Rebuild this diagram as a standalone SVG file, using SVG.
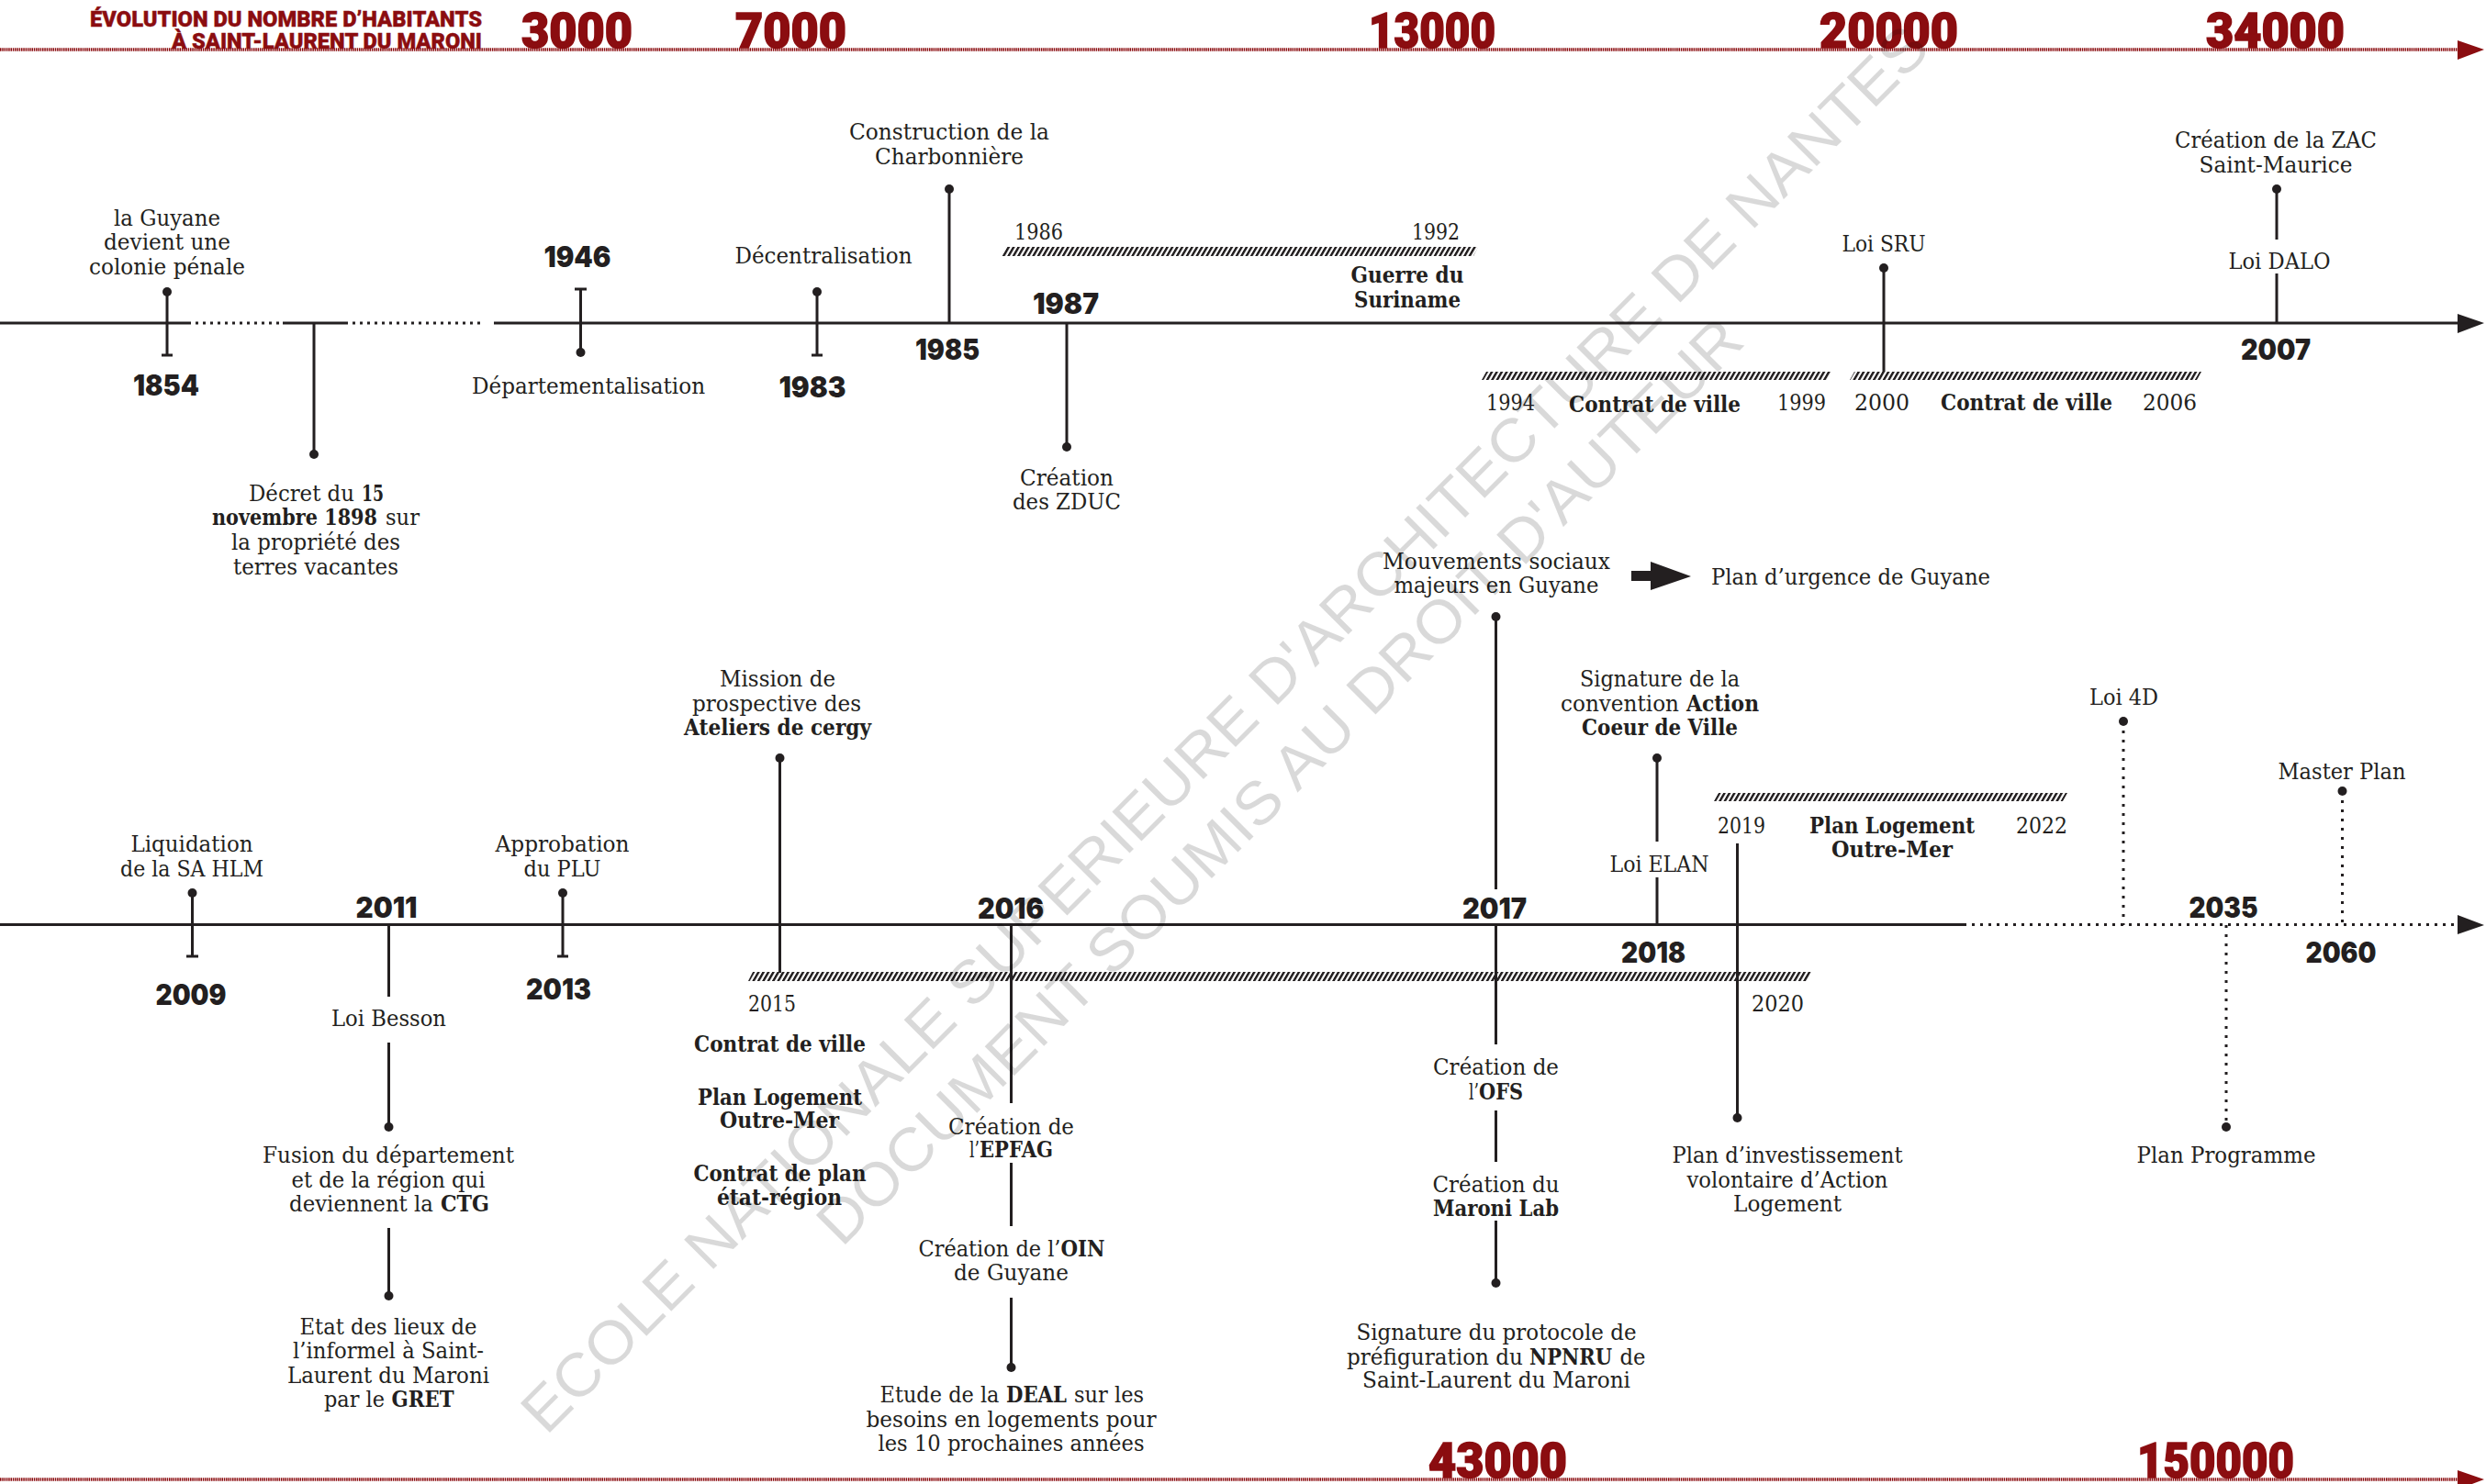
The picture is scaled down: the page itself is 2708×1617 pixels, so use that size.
<svg xmlns="http://www.w3.org/2000/svg" width="2708" height="1617" viewBox="0 0 2708 1617">
<style>
text{fill:#231f20;font-family:"DejaVu Serif","Liberation Serif",serif;font-size:25px}
.m{text-anchor:middle}
.b{font-weight:700}
.y{font-family:Inter,"Open Sans",sans-serif;font-weight:900;font-size:31px;text-anchor:middle}
.r{font-family:Roboto,"Open Sans",sans-serif;font-weight:900;font-size:53px;fill:#8b0d10;stroke:#8b0d10;stroke-width:1.6}
.ti{font-family:Roboto,"Open Sans",sans-serif;font-weight:900;font-size:23px;fill:#8b0d10;stroke:#8b0d10;stroke-width:.4}
.l{stroke:#231f20;stroke-width:3;fill:none}
.d{stroke:#231f20;stroke-width:3;fill:none;stroke-dasharray:3 7}
.a{fill:#231f20}
.ra{fill:#8b0d10}
.rl{stroke:#8b0d10;stroke-width:3.4;stroke-dasharray:1.5 .8;fill:none}
.w{font-family:"Liberation Sans",Arial,sans-serif;font-size:66px;fill:#000;fill-opacity:.15}
</style>
<defs>
<pattern id="h" width="5.4" height="10" patternUnits="userSpaceOnUse" patternTransform="skewX(-30)"><rect width="2.9" height="10" fill="#231f20"/></pattern>
<circle id="p" r="5" fill="#231f20"/>
</defs>
<rect width="2708" height="1617" fill="#fff"/>
<g id="connectors">
<path class="rl" d="M0 54H2680M0 1612H2680"/>
<path class="ra" d="M2677 44L2706 54L2677 65ZM2677 1602L2706 1612L2677 1623Z"/>
<path class="l" d="M0 352H205M308 352H376M538 352H2680M0 1007.500H2139"/>
<path class="d" style="stroke-dasharray:3 5" d="M205 352H308M376 352H528"/>
<path class="d" style="stroke-dasharray:3 6" d="M2139 1007.500H2680"/>
<path class="a" d="M2677 342L2706 352L2677 363ZM2677 997L2706 1008L2677 1018ZM1777 622H1798V612L1842 628L1798 643V633H1777Z"/>
<path class="l" d="M182 318V387M176 387H188M342 352V495M632.500 315V384M626 315H639M890 318V387M884 387H896M1034 206V352M1162 352V487M2052 292V405M2480 206V261M2480 298V352"/>
<path class="l" d="M209.500 973V1042M203 1042H216M423.500 1008V1086M423.500 1136V1228M423.500 1338V1412M613 973V1042M607 1042H619M849.500 826V1060M1101.500 1008V1202M1101.500 1267V1336M1101.500 1414V1490M1629.500 672V969M1629.500 1008V1138M1629.500 1210V1266M1629.500 1330V1398M1805 826V917M1805 956V1008M1892.500 919V1218"/>
<path class="d" d="M2313 786V1008M2551.500 862V1008M2425 1008V1228"/>
</g>
<g id="hatches">
<path fill="url(#h)" d="M1091 279L1096 269H1610L1605 279Z"/>
<path fill="url(#h)" d="M1614 414L1619 405H1995L1990 414Z"/>
<path fill="url(#h)" d="M2015 414L2020 405H2398L2393 414Z"/>
<path fill="url(#h)" d="M815 1069L820 1059H1973L1968 1069Z"/>
<path fill="url(#h)" d="M1867 873L1872 864H2252L2247 873Z"/>
</g>
<g id="pop-top">
<text class="ti" x="525" y="29" text-anchor="end" textLength="427" lengthAdjust="spacingAndGlyphs">ÉVOLUTION DU NOMBRE D’HABITANTS</text>
<text class="ti" x="525" y="53" text-anchor="end" textLength="338" lengthAdjust="spacingAndGlyphs">À SAINT-LAURENT DU MARONI</text>
<text class="r" x="568" y="52" textLength="121" lengthAdjust="spacingAndGlyphs">3000</text>
<text class="r" x="801" y="52" textLength="121" lengthAdjust="spacingAndGlyphs">7000</text>
<text class="r" x="1491" y="52" textLength="138" lengthAdjust="spacingAndGlyphs">13000</text>
<text class="r" x="1982" y="52" textLength="151" lengthAdjust="spacingAndGlyphs">20000</text>
<text class="r" x="2403" y="52" textLength="151" lengthAdjust="spacingAndGlyphs">34000</text>
</g>
<g id="pop-bottom">
<text class="r" x="1556" y="1610" textLength="151" lengthAdjust="spacingAndGlyphs">43000</text>
<text class="r" x="2328" y="1610" textLength="171" lengthAdjust="spacingAndGlyphs">150000</text>
</g>
<g id="n1854"><use href="#p" x="182" y="318"/>
<text class="m" x="182" y="246" textLength="116" lengthAdjust="spacingAndGlyphs">la Guyane</text>
<text class="m" x="182" y="272" textLength="138" lengthAdjust="spacingAndGlyphs">devient une</text>
<text class="m" x="182" y="299" textLength="170" lengthAdjust="spacingAndGlyphs">colonie pénale</text>
<text class="y" x="181" y="431" textLength="72" lengthAdjust="spacingAndGlyphs">1854</text></g>
<g id="n1898"><use href="#p" x="342" y="495"/>
<text y="546"><tspan x="271" textLength="115" lengthAdjust="spacingAndGlyphs">Décret du</tspan> <tspan class="b" x="394" textLength="24" lengthAdjust="spacingAndGlyphs">15</tspan></text>
<text y="572"><tspan class="b" x="231" textLength="180" lengthAdjust="spacingAndGlyphs">novembre 1898</tspan> <tspan x="420" textLength="37" lengthAdjust="spacingAndGlyphs">sur</tspan></text>
<text class="m" x="344" y="599" textLength="184" lengthAdjust="spacingAndGlyphs">la propriété des</text>
<text class="m" x="344" y="626" textLength="180" lengthAdjust="spacingAndGlyphs">terres vacantes</text></g>
<g id="n1946"><use href="#p" x="632.500" y="384"/>
<text class="y" x="629" y="291" textLength="73" lengthAdjust="spacingAndGlyphs">1946</text>
<text class="m" x="641" y="429" textLength="254" lengthAdjust="spacingAndGlyphs">Départementalisation</text></g>
<g id="n1983"><use href="#p" x="890" y="318"/>
<text class="m" x="897" y="287" textLength="193" lengthAdjust="spacingAndGlyphs">Décentralisation</text>
<text class="y" x="885" y="433" textLength="73" lengthAdjust="spacingAndGlyphs">1983</text></g>
<g id="n1985"><use href="#p" x="1034" y="206"/>
<text class="m" x="1034" y="152" textLength="218" lengthAdjust="spacingAndGlyphs">Construction de la</text>
<text class="m" x="1034" y="179" textLength="162" lengthAdjust="spacingAndGlyphs">Charbonnière</text>
<text class="y" x="1032" y="392" textLength="70" lengthAdjust="spacingAndGlyphs">1985</text></g>
<g id="n1987"><use href="#p" x="1162" y="487"/>
<text class="y" x="1161" y="342" textLength="72" lengthAdjust="spacingAndGlyphs">1987</text>
<text class="m" x="1162" y="529" textLength="102" lengthAdjust="spacingAndGlyphs">Création</text>
<text class="m" x="1162" y="555" textLength="118" lengthAdjust="spacingAndGlyphs">des ZDUC</text></g>
<g id="suriname">
<text x="1105" y="261" textLength="53" lengthAdjust="spacingAndGlyphs">1986</text>
<text x="1538" y="261" textLength="52" lengthAdjust="spacingAndGlyphs">1992</text>
<text class="m b" x="1533" y="308" textLength="123" lengthAdjust="spacingAndGlyphs">Guerre du</text>
<text class="m b" x="1533" y="335" textLength="116" lengthAdjust="spacingAndGlyphs">Suriname</text></g>
<g id="contrat1">
<text x="1619" y="447" textLength="53" lengthAdjust="spacingAndGlyphs">1994</text>
<text class="b" x="1709" y="449" textLength="187" lengthAdjust="spacingAndGlyphs">Contrat de ville</text>
<text x="1936" y="447" textLength="53" lengthAdjust="spacingAndGlyphs">1999</text></g>
<g id="contrat2">
<text x="2020" y="447" textLength="60" lengthAdjust="spacingAndGlyphs">2000</text>
<text class="b" x="2114" y="447" textLength="187" lengthAdjust="spacingAndGlyphs">Contrat de ville</text>
<text x="2334" y="447" textLength="59" lengthAdjust="spacingAndGlyphs">2006</text></g>
<g id="sru"><use href="#p" x="2052" y="292"/>
<text class="m" x="2052" y="274" textLength="91" lengthAdjust="spacingAndGlyphs">Loi SRU</text></g>
<g id="n2007"><use href="#p" x="2480" y="206"/>
<text class="m" x="2479" y="161" textLength="220" lengthAdjust="spacingAndGlyphs">Création de la ZAC</text>
<text class="m" x="2479" y="188" textLength="167" lengthAdjust="spacingAndGlyphs">Saint-Maurice</text>
<text class="m" x="2483" y="293" textLength="111" lengthAdjust="spacingAndGlyphs">Loi DALO</text>
<text class="y" x="2479" y="392" textLength="76" lengthAdjust="spacingAndGlyphs">2007</text></g>
<g id="mouvements">
<text class="m" x="1630" y="620" textLength="248" lengthAdjust="spacingAndGlyphs">Mouvements sociaux</text>
<text class="m" x="1630" y="646" textLength="223" lengthAdjust="spacingAndGlyphs">majeurs en Guyane</text>
<text x="1864" y="637" textLength="304" lengthAdjust="spacingAndGlyphs">Plan d’urgence de Guyane</text></g>
<g id="n2009"><use href="#p" x="209.500" y="973"/>
<text class="m" x="209" y="928" textLength="133" lengthAdjust="spacingAndGlyphs">Liquidation</text>
<text class="m" x="209" y="955" textLength="156" lengthAdjust="spacingAndGlyphs">de la SA HLM</text>
<text class="y" x="208" y="1095" textLength="77" lengthAdjust="spacingAndGlyphs">2009</text></g>
<g id="n2011"><use href="#p" x="423.500" y="1228"/><use href="#p" x="423.500" y="1412"/>
<text class="y" x="421" y="1000" textLength="67" lengthAdjust="spacingAndGlyphs">2011</text>
<text class="m" x="423.500" y="1118" textLength="125" lengthAdjust="spacingAndGlyphs">Loi Besson</text>
<text class="m" x="423" y="1267" textLength="274" lengthAdjust="spacingAndGlyphs">Fusion du département</text>
<text class="m" x="423" y="1294" textLength="211" lengthAdjust="spacingAndGlyphs">et de la région qui</text>
<text y="1320"><tspan x="315" textLength="157" lengthAdjust="spacingAndGlyphs">deviennent la</tspan> <tspan class="b" x="480" textLength="53" lengthAdjust="spacingAndGlyphs">CTG</tspan></text>
<text class="m" x="423" y="1454" textLength="193" lengthAdjust="spacingAndGlyphs">Etat des lieux de</text>
<text class="m" x="423" y="1480" textLength="208" lengthAdjust="spacingAndGlyphs">l’informel à Saint-</text>
<text class="m" x="423" y="1507" textLength="220" lengthAdjust="spacingAndGlyphs">Laurent du Maroni</text>
<text y="1533"><tspan x="353" textLength="66" lengthAdjust="spacingAndGlyphs">par le</tspan> <tspan class="b" x="426.500" textLength="68" lengthAdjust="spacingAndGlyphs">GRET</tspan></text></g>
<g id="n2013"><use href="#p" x="613" y="973"/>
<text class="m" x="612.500" y="928" textLength="146" lengthAdjust="spacingAndGlyphs">Approbation</text>
<text class="m" x="612.500" y="955" textLength="84" lengthAdjust="spacingAndGlyphs">du PLU</text>
<text class="y" x="608.500" y="1089" textLength="71" lengthAdjust="spacingAndGlyphs">2013</text></g>
<g id="n2015"><use href="#p" x="849.500" y="826"/>
<text class="m" x="847" y="748" textLength="126" lengthAdjust="spacingAndGlyphs">Mission de</text>
<text class="m" x="846" y="775" textLength="184" lengthAdjust="spacingAndGlyphs">prospective des</text>
<text class="m b" x="847" y="801" textLength="204" lengthAdjust="spacingAndGlyphs">Ateliers de cergy</text>
<text x="815" y="1102" textLength="52" lengthAdjust="spacingAndGlyphs">2015</text>
<text class="b" x="756" y="1146" textLength="187" lengthAdjust="spacingAndGlyphs">Contrat de ville</text>
<text class="b" x="760" y="1204" textLength="179" lengthAdjust="spacingAndGlyphs">Plan Logement</text>
<text class="b" x="784" y="1229" textLength="130" lengthAdjust="spacingAndGlyphs">Outre-Mer</text>
<text class="b" x="755.500" y="1287" textLength="188" lengthAdjust="spacingAndGlyphs">Contrat de plan</text>
<text class="b" x="781" y="1313" textLength="136" lengthAdjust="spacingAndGlyphs">état-région</text></g>
<g id="n2016"><use href="#p" x="1101.500" y="1490"/>
<text class="y" x="1101" y="1001" textLength="72" lengthAdjust="spacingAndGlyphs">2016</text>
<text class="m" x="1101.500" y="1236" textLength="137" lengthAdjust="spacingAndGlyphs">Création de</text>
<text y="1261"><tspan x="1056" textLength="11" lengthAdjust="spacingAndGlyphs">l’</tspan><tspan class="b" x="1067" textLength="80" lengthAdjust="spacingAndGlyphs">EPFAG</tspan></text>
<text y="1369"><tspan x="1000.500" textLength="155" lengthAdjust="spacingAndGlyphs">Création de l’</tspan><tspan class="b" x="1155.500" textLength="48" lengthAdjust="spacingAndGlyphs">OIN</tspan></text>
<text class="m" x="1101.500" y="1395" textLength="125" lengthAdjust="spacingAndGlyphs">de Guyane</text>
<text y="1528"><tspan x="958.500" textLength="130" lengthAdjust="spacingAndGlyphs">Etude de la</tspan> <tspan class="b" x="1096" textLength="66" lengthAdjust="spacingAndGlyphs">DEAL</tspan> <tspan x="1170" textLength="76" lengthAdjust="spacingAndGlyphs">sur les</tspan></text>
<text class="m" x="1101.500" y="1555" textLength="316" lengthAdjust="spacingAndGlyphs">besoins en logements pour</text>
<text class="m" x="1101.500" y="1581" textLength="290" lengthAdjust="spacingAndGlyphs">les 10 prochaines années</text></g>
<g id="n2017"><use href="#p" x="1629.500" y="672"/><use href="#p" x="1629.500" y="1398"/>
<text class="y" x="1628" y="1001" textLength="70" lengthAdjust="spacingAndGlyphs">2017</text>
<text class="m" x="1629.500" y="1171" textLength="137" lengthAdjust="spacingAndGlyphs">Création de</text>
<text y="1198"><tspan x="1600" textLength="11" lengthAdjust="spacingAndGlyphs">l’</tspan><tspan class="b" x="1611" textLength="48" lengthAdjust="spacingAndGlyphs">OFS</tspan></text>
<text class="m" x="1629.500" y="1299" textLength="138" lengthAdjust="spacingAndGlyphs">Création du</text>
<text class="m b" x="1629.500" y="1325" textLength="137" lengthAdjust="spacingAndGlyphs">Maroni Lab</text>
<text class="m" x="1630" y="1460" textLength="305" lengthAdjust="spacingAndGlyphs">Signature du protocole de</text>
<text y="1487"><tspan x="1467" textLength="192" lengthAdjust="spacingAndGlyphs">préfiguration du</tspan> <tspan class="b" x="1666" textLength="90" lengthAdjust="spacingAndGlyphs">NPNRU</tspan> <tspan x="1764.500" textLength="28" lengthAdjust="spacingAndGlyphs">de</tspan></text>
<text class="m" x="1630" y="1512" textLength="292" lengthAdjust="spacingAndGlyphs">Saint-Laurent du Maroni</text></g>
<g id="n2018"><use href="#p" x="1805" y="826"/>
<text class="m" x="1808" y="748" textLength="174" lengthAdjust="spacingAndGlyphs">Signature de la</text>
<text y="775"><tspan x="1700" textLength="129" lengthAdjust="spacingAndGlyphs">convention</tspan> <tspan class="b" x="1837" textLength="79" lengthAdjust="spacingAndGlyphs">Action</tspan></text>
<text class="m b" x="1808" y="801" textLength="170" lengthAdjust="spacingAndGlyphs">Coeur de Ville</text>
<text x="1753.500" y="950" textLength="108" lengthAdjust="spacingAndGlyphs">Loi ELAN</text>
<text class="y" x="1801" y="1049" textLength="70" lengthAdjust="spacingAndGlyphs">2018</text></g>
<g id="n2019">
<text x="1871" y="908" textLength="52" lengthAdjust="spacingAndGlyphs">2019</text>
<text class="b" x="1971" y="908" textLength="180" lengthAdjust="spacingAndGlyphs">Plan Logement</text>
<text class="b" x="1995" y="934" textLength="132" lengthAdjust="spacingAndGlyphs">Outre-Mer</text>
<text x="2196" y="908" textLength="56" lengthAdjust="spacingAndGlyphs">2022</text></g>
<g id="n2020"><use href="#p" x="1892.500" y="1218"/>
<text x="1908" y="1102" textLength="57" lengthAdjust="spacingAndGlyphs">2020</text>
<text class="m" x="1947" y="1267" textLength="251" lengthAdjust="spacingAndGlyphs">Plan d’investissement</text>
<text class="m" x="1947" y="1294" textLength="219" lengthAdjust="spacingAndGlyphs">volontaire d’Action</text>
<text class="m" x="1947" y="1320" textLength="118" lengthAdjust="spacingAndGlyphs">Logement</text></g>
<g id="loi4d"><use href="#p" x="2313" y="786"/>
<text class="m" x="2313.500" y="768" textLength="75" lengthAdjust="spacingAndGlyphs">Loi 4D</text></g>
<g id="n2060"><use href="#p" x="2551.500" y="862"/>
<text class="m" x="2551" y="849" textLength="139" lengthAdjust="spacingAndGlyphs">Master Plan</text>
<text class="y" x="2550" y="1049" textLength="77" lengthAdjust="spacingAndGlyphs">2060</text></g>
<g id="n2035"><use href="#p" x="2425" y="1228"/>
<text class="y" x="2422" y="1000" textLength="75" lengthAdjust="spacingAndGlyphs">2035</text>
<text class="m" x="2425" y="1267" textLength="195" lengthAdjust="spacingAndGlyphs">Plan Programme</text></g>
<g id="watermark">
<text class="w" transform="translate(595 1565) rotate(-45)" x="0" y="0" textLength="2135" lengthAdjust="spacingAndGlyphs">ECOLE NATIONALE SUPERIEURE D'ARCHITECTURE DE NANTES</text>
<text class="w" transform="translate(917 1360) rotate(-45)" x="0" y="0" textLength="1394" lengthAdjust="spacingAndGlyphs">DOCUMENT SOUMIS AU DROIT D'AUTEUR</text>
</g>
</svg>
